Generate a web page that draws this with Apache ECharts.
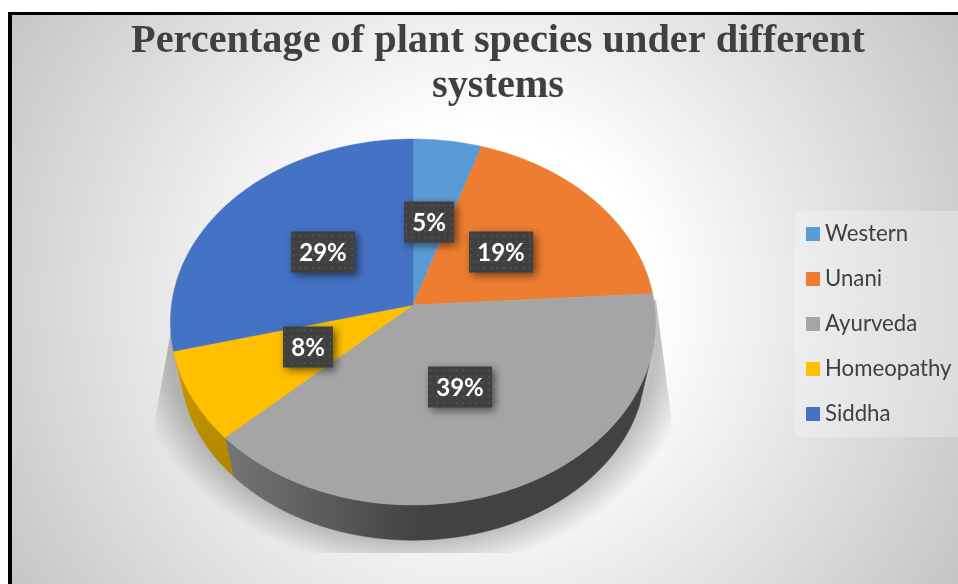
<!DOCTYPE html>
<html>
<head>
<meta charset="utf-8">
<style>html,body{margin:0;padding:0;background:#fff}#chart{width:958px;height:584px}</style>
<script src="https://cdn.jsdelivr.net/npm/echarts@6/dist/echarts.min.js"></script>
</head>
<body>
<div id="chart"></div>
<script>
// Chart data
const titleText = 'Percentage of plant species under different\nsystems';
const categories = ['Western', 'Unani', 'Ayurveda', 'Homeopathy', 'Siddha'];
const shares = [5, 19, 39, 8, 29];

// Slice colours for the top face and the side wall
const faceColors = ['#5b9bd5', '#ed7d31', '#a5a5a5', '#ffc000', '#4472c4'];

// Tilted disc: a circle seen through a projective camera
const disc = { cx: 413, cy: 305, rx: 241.5, ry: 181.4, k: 0.093 };
const rimDrop = 44, rimScale = 0.96;      // lower rim of the wall
const wallFrom = 108, wallTo = 255.6;     // visible part of the wall, degrees clockwise from 12 o'clock

const total = shares.reduce((a, b) => a + b, 0);
const toAngle = v => echarts.number.linearMap(v, [0, total], [0, 360]);
const startOf = i => toAngle(shares.slice(0, i).reduce((a, b) => a + b, 0));
const endOf = i => toAngle(shares.slice(0, i + 1).reduce((a, b) => a + b, 0));

function project(deg, r, drop) {
  const t = deg * Math.PI / 180;
  const u = Math.sin(t) * r, v = -Math.cos(t) * r;
  const w = 1 - disc.k * v;
  return [disc.cx + disc.rx * u / w, disc.cy + (drop || 0) + disc.ry * v / w];
}
function arc(from, to, r, drop) {
  const n = Math.max(2, Math.ceil(Math.abs(to - from) * 2));
  const pts = [];
  for (let i = 0; i <= n; i++) pts.push(project(from + (to - from) * i / n, r, drop));
  return pts;
}

// Dotted texture for the value boxes
function dotTile() {
  const c = document.createElement('canvas');
  c.width = c.height = 13;
  const g = c.getContext('2d');
  g.fillStyle = '#404040';
  g.fillRect(0, 0, 13, 13);
  g.fillStyle = '#555555';
  [[3, 3], [9.5, 3], [3, 9.5], [9.5, 9.5]].forEach(p => {
    g.beginPath(); g.arc(p[0], p[1], 1.1, 0, 6.3); g.fill();
  });
  return c;
}
const tile = dotTile();

const wallFills = {
  2: { type: 'linear', global: true, x: 225, y: 0, x2: 420, y2: 0,
       colorStops: [{ offset: 0, color: '#757575' }, { offset: 1, color: '#424242' }] },
  3: { type: 'linear', global: true, x: 175, y: 380, x2: 228, y2: 450,
       colorStops: [{ offset: 0, color: '#c99700' }, { offset: 1, color: '#b38700' }] }
};

const series = [];

// Soft cast shadow, cut off by the plot area of the disc
series.push({
  type: 'custom', coordinateSystem: 'none', silent: true, z: 1, data: [0],
  renderItem: () => ({
    type: 'group',
    clipPath: { type: 'polygon', shape: { points: [[172, 325], [155, 420], [155, 553], [671, 553], [671, 415], [656, 300]] } },
    children: [{
      type: 'circle', x: 413, y: 335, scaleY: 0.83,
      shape: { cx: 0, cy: 0, r: 285 },
      style: { fill: { type: 'radial', x: 0.5, y: 0.5, r: 0.5, colorStops: [
        { offset: 0, color: 'rgba(0,0,0,0.24)' },
        { offset: 0.86, color: 'rgba(0,0,0,0.24)' },
        { offset: 1, color: 'rgba(0,0,0,0)' }] } }
    }]
  })
});

// Side wall, drawn beneath the top faces
series.push({
  type: 'custom', coordinateSystem: 'none', silent: true, z: 2, data: shares.map((s, i) => i),
  renderItem: (params) => {
    const i = params.dataIndex;
    const a = Math.max(startOf(i), wallFrom), b = Math.min(endOf(i), wallTo);
    if (b <= a) return { type: 'group', children: [] };
    const top = arc(a, b, 1, 0);
    const low = arc(b, a, rimScale, rimDrop);
    const fill = wallFills[i] || faceColors[i];
    return { type: 'polygon', shape: { points: top.concat(low) }, style: { fill, stroke: fill, lineWidth: 0.5 } };
  }
});

// Top faces, one series per category so the legend lists them
categories.forEach((name, i) => {
  series.push({
    name, type: 'custom', coordinateSystem: 'none', silent: true, z: 3,
    itemStyle: { color: faceColors[i] }, data: [shares[i]],
    renderItem: () => {
      const pts = [project(0, 0)].concat(arc(startOf(i), endOf(i), 1, 0));
      return { type: 'polygon', shape: { points: pts }, style: { fill: faceColors[i], stroke: faceColors[i], lineWidth: 0.5 } };
    }
  });
});

// Value boxes
series.push({
  type: 'custom', coordinateSystem: 'none', silent: true, z: 4, data: shares.map((s, i) => i),
  renderItem: (params) => {
    const i = params.dataIndex;
    const p = project((startOf(i) + endOf(i)) / 2, 0.48, 0);
    const w = shares[i] < 10 ? 50 : 64, h = 41;
    return {
      type: 'group', x: Math.round(p[0]) - 1, y: Math.round(p[1]) - 1,
      children: [{
        type: 'rect', shape: { x: -w / 2, y: -h / 2, width: w, height: h },
        style: { fill: { image: tile, repeat: 'repeat' }, shadowColor: 'rgba(0,0,0,0.55)', shadowBlur: 8, shadowOffsetX: 3, shadowOffsetY: 3 }
      }, {
        type: 'text',
        style: { text: shares[i] + '%', x: 0, y: 1, align: 'center', verticalAlign: 'middle',
                 fill: '#ffffff', font: 'bold 24px Lato' }
      }]
    };
  }
});

const chart = echarts.init(document.getElementById('chart'), null, { renderer: 'canvas' });
chart.setOption({
  animation: false,
  backgroundColor: '#ffffff',
  title: {
    text: titleText, left: 493, top: 14, textAlign: 'center',
    textStyle: { fontFamily: 'Liberation Serif', fontWeight: 'bold', fontSize: 40.3, lineHeight: 45, color: '#404040' }
  },
  legend: {
    data: categories, orient: 'vertical', left: 806, top: 223, padding: 0,
    icon: 'rect', itemWidth: 14, itemHeight: 14, itemGap: 23, selectedMode: false,
    textStyle: { fontFamily: 'Lato', fontSize: 22.2, color: '#404040' }
  },
  graphic: [
    { type: 'rect', z: -10, shape: { x: 8, y: 12, width: 950, height: 572 }, style: { fill: '#000000' } },
    { type: 'rect', z: -9, shape: { x: 12, y: 15, width: 946, height: 569 },
      style: { fill: { type: 'radial', global: true, x: 480, y: 300, r: 560, colorStops: [
        { offset: 0, color: '#ffffff' }, { offset: 0.3, color: '#ffffff' }, { offset: 1, color: '#c4c4c4' }] } } },
    { type: 'rect', z: -8, shape: { x: 795, y: 211, width: 163, height: 226 }, style: { fill: 'rgba(255,255,255,0.25)' } }
  ],
  series
});
</script>
</body>
</html>
